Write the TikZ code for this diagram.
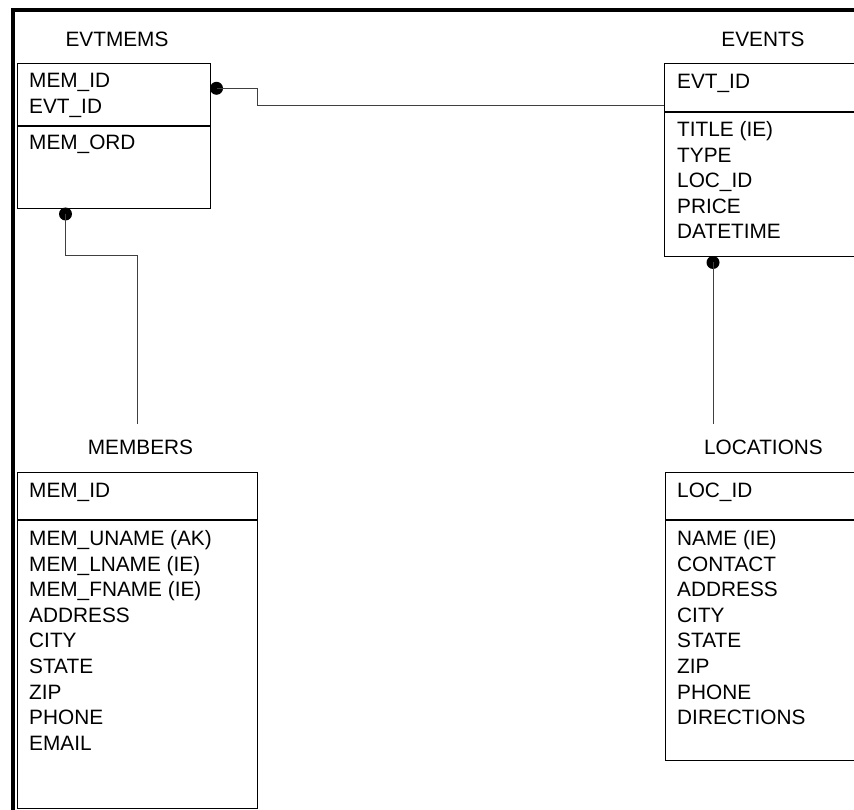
\documentclass[tikz,border=0pt]{standalone}
\usepackage{fontspec}
\setmainfont{Liberation Sans}
\tikzset{
  tbl/.style={draw, line width=1.4pt, anchor=north west, inner sep=0pt},
  fld/.style={anchor=base west, inner sep=0pt, font=\fontsize{20.8}{25}\selectfont},
  ttl/.style={anchor=base, inner sep=0pt, font=\fontsize{20.8}{25}\selectfont},
  rel/.style={line width=1pt, black!75},
  dot/.style={circle, fill=black, inner sep=0pt, minimum size=13pt},
}
\begin{document}
\begin{tikzpicture}[x=1pt,y=-1pt]
    \useasboundingbox (0,0) rectangle (854,810);
    \clip (0,0) rectangle (854,810);
    \draw[line width=4pt] (12.5,812) -- (12.5,10) -- (860,10);
    % EVTMEMS
    \node[ttl] (evtmems-t) at (117,46.5) {EVTMEMS};
    \node[tbl,minimum width=193pt,minimum height=145pt] (evtmems) at (17,63) {};
    \draw[line width=1.4pt] (evtmems.west |- 0,126) -- (evtmems.east |- 0,126);
    \foreach \f [count=\i] in {MEM\_ID,EVT\_ID}
        \node[fld] (evtmems-k\i) at (29,{88+25.5*(\i-1)}) {\f};
    \node[fld] (evtmems-a1) at (29,149.5) {MEM\_ORD};
    % EVENTS
    \node[ttl] (events-t) at (763,46.5) {EVENTS};
    \node[tbl,minimum width=220pt,minimum height=193pt] (events) at (664,63) {};
    \draw[line width=1.4pt] (events.west |- 0,112) -- (events.east |- 0,112);
    \node[fld] (events-k1) at (677,88.5) {EVT\_ID};
    \foreach \f [count=\i] in {TITLE (IE),TYPE,LOC\_ID,PRICE,DATETIME}
        \node[fld] (events-a\i) at (677,{137+25.4*(\i-1)}) {\f};
    % MEMBERS
    \node[ttl] (members-t) at (140.5,454) {MEMBERS};
    \node[tbl,minimum width=240pt,minimum height=336pt] (members) at (17,472) {};
    \draw[line width=1.4pt] (members.west |- 0,520) -- (members.east |- 0,520);
    \node[fld] (members-k1) at (29,497.8) {MEM\_ID};
    \foreach \f [count=\i] in {MEM\_UNAME (AK),MEM\_LNAME (IE),MEM\_FNAME (IE),ADDRESS,CITY,STATE,ZIP,PHONE,EMAIL}
        \node[fld] (members-a\i) at (29,{545.5+25.6*(\i-1)}) {\f};
    % LOCATIONS
    \node[ttl] (locations-t) at (763.5,454.5) {LOCATIONS};
    \node[tbl,minimum width=220pt,minimum height=288pt] (locations) at (665,472) {};
    \draw[line width=1.4pt] (locations.west |- 0,520) -- (locations.east |- 0,520);
    \node[fld] (locations-k1) at (677,497.8) {LOC\_ID};
    \foreach \f [count=\i] in {NAME (IE),CONTACT,ADDRESS,CITY,STATE,ZIP,PHONE,DIRECTIONS}
        \node[fld] (locations-a\i) at (677,{545.5+25.6*(\i-1)}) {\f};
    % relationships
    \node[dot] (evtmems-d1) at (216.5,88.3) {};
    \node[dot] (evtmems-d2) at (65.5,214) {};
    \node[dot] (events-d1) at (713,262.5) {};
    \coordinate (members-in) at (137.7,424);
    \coordinate (locations-in) at (713,424);
    \draw[rel] (evtmems-d1.center) -- (257.7,88.3) |- (events.west |- 0,105.7);
    \draw[rel] (evtmems-d2.center) |- (137.7,256) -- (members-in);
    \draw[rel] (events-d1.center) -- (locations-in);
\end{tikzpicture}
\end{document}
